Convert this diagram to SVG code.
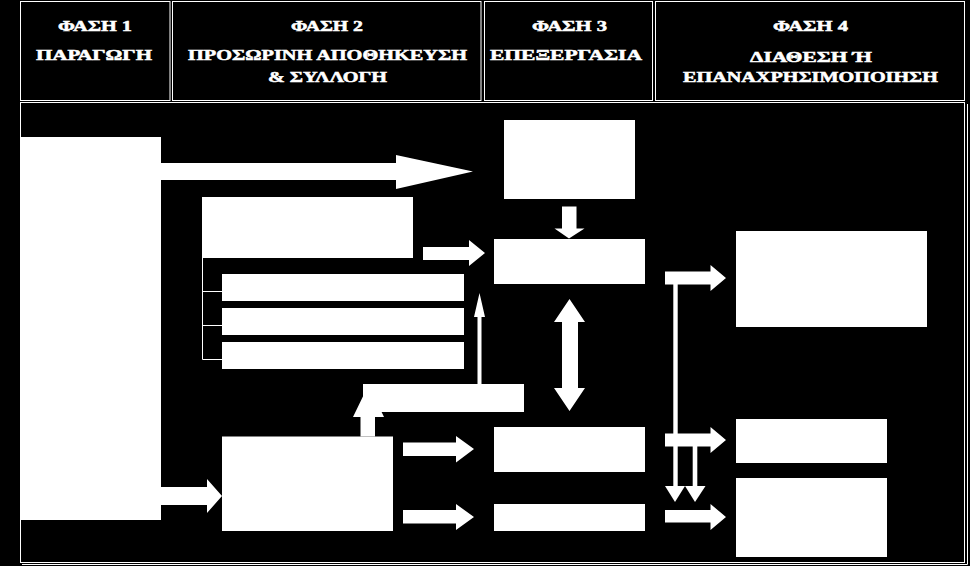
<svg xmlns="http://www.w3.org/2000/svg" width="970" height="566" viewBox="0 0 970 566">
<style>
.frame{fill:none;stroke:#fff;stroke-width:1}
.box{fill:#fff}
.arrow{fill:#fff}
.line{stroke:#fff;stroke-width:1;fill:none}
.hd{font-family:"Liberation Serif","Times New Roman",serif;font-weight:bold;font-size:14px;fill:#fff;stroke:#fff;stroke-width:0.5;text-anchor:middle}
</style>
<rect x="0" y="0" width="970" height="566" fill="#000"/>
<g id="header">
  <rect class="frame" x="20.5" y="1.5" width="149.5" height="99"/>
  <rect class="frame" x="172.5" y="1.5" width="308.5" height="99"/>
  <rect class="frame" x="484.5" y="1.5" width="168" height="99"/>
  <rect class="frame" x="655.5" y="1.5" width="309" height="99"/>
  <text class="hd" x="95" y="31" textLength="74" lengthAdjust="spacingAndGlyphs">ΦΑΣΗ 1</text>
  <text class="hd" x="94" y="60" textLength="116" lengthAdjust="spacingAndGlyphs">ΠΑΡΑΓΩΓΗ</text>
  <text class="hd" x="327" y="31" textLength="72" lengthAdjust="spacingAndGlyphs">ΦΑΣΗ 2</text>
  <text class="hd" x="327.5" y="60" textLength="279" lengthAdjust="spacingAndGlyphs">ΠΡΟΣΩΡΙΝΗ ΑΠΟΘΗΚΕΥΣΗ</text>
  <text class="hd" x="327.5" y="82" textLength="119" lengthAdjust="spacingAndGlyphs">&amp; ΣΥΛΛΟΓΗ</text>
  <text class="hd" x="569.5" y="31" textLength="75" lengthAdjust="spacingAndGlyphs">ΦΑΣΗ 3</text>
  <text class="hd" x="566" y="60" textLength="152" lengthAdjust="spacingAndGlyphs">ΕΠΕΞΕΡΓΑΣΙΑ</text>
  <text class="hd" x="810.5" y="31" textLength="75" lengthAdjust="spacingAndGlyphs">ΦΑΣΗ 4</text>
  <text class="hd" x="811" y="61.5" textLength="122" lengthAdjust="spacingAndGlyphs">ΔΙΑΘΕΣΗ Ή</text>
  <text class="hd" x="810.5" y="82" textLength="255" lengthAdjust="spacingAndGlyphs">ΕΠΑΝΑΧΡΗΣΙΜΟΠΟΙΗΣΗ</text>
</g>
<g id="body-frame">
  <rect class="frame" x="20.5" y="102.5" width="944" height="460"/>
  <path class="line" d="M967.5,104 V564.5 H22"/>
</g>
<g id="connectors">
  <polygon class="arrow" points="161,163 396,163 396,155 473,171.5 396,189 396,180 161,180"/>
  <polygon class="arrow" points="423,247 469,247 469,240 485,253 469,266 469,260 423,260"/>
  <polygon class="arrow" points="477.5,384 477.5,317 474,317 479.5,293 485,317 481.5,317 481.5,384"/>
  <polygon class="arrow" points="360.5,436.5 360.5,417 353,417 368.5,385 384,417 375,417 375,436.5"/>
  <polygon class="arrow" points="161,487 207,487 207,479 222,496 207,513 207,505 161,505"/>
  <polygon class="arrow" points="403,442.5 456,442.5 456,436 474,449 456,462.5 456,456 403,456"/>
  <polygon class="arrow" points="403,510 456,510 456,504 474,517 456,530 456,523.5 403,523.5"/>
  <polygon class="arrow" points="562,206.5 576.5,206.5 576.5,228.5 584.5,228.5 569,238.5 554.5,228.5 562,228.5"/>
  <polygon class="arrow" points="569.5,299 585,322 578,322 578,388 585,388 569.5,411 554,388 562,388 562,322 554,322"/>
  <polygon class="arrow" points="665,271.5 710.5,271.5 710.5,265 726,278 710.5,291 710.5,284.5 665,284.5"/>
  <rect class="arrow" x="673.3" y="284" width="4.4" height="202"/>
  <polygon class="arrow" points="665,433.5 710.5,433.5 710.5,427 726,440 710.5,453 710.5,446.5 665,446.5"/>
  <rect class="arrow" x="692.7" y="446" width="4.6" height="40"/>
  <polygon class="arrow" points="665,486 685,486 675,502"/>
  <polygon class="arrow" points="685,486 705.5,486 695,502"/>
  <polygon class="arrow" points="665,510 710.5,510 710.5,504 726,517 710.5,530 710.5,522.5 665,522.5"/>
  <path class="line" d="M202.5,258 V359.5 M202.5,291.5 H222 M202.5,325.5 H222 M202.5,359.5 H222"/>
</g>
<g id="n-production"><rect class="box" x="20" y="137" width="141" height="383"/></g>
<g id="n-storage-top"><rect class="box" x="202" y="197" width="211" height="61"/></g>
<g id="n-bar1"><rect class="box" x="222" y="274" width="242" height="27"/></g>
<g id="n-bar2"><rect class="box" x="222" y="308" width="242" height="27"/></g>
<g id="n-bar3"><rect class="box" x="222" y="342" width="242" height="27"/></g>
<g id="n-collect-mid"><rect class="box" x="363" y="384" width="161" height="28"/></g>
<g id="n-storage-bottom"><rect class="box" x="222" y="436.5" width="171" height="94.5"/></g>
<g id="n-proc-top"><rect class="box" x="504" y="120" width="131" height="79"/></g>
<g id="n-proc-1"><rect class="box" x="494" y="239" width="151" height="45"/></g>
<g id="n-proc-2"><rect class="box" x="494" y="427" width="151" height="45"/></g>
<g id="n-proc-3"><rect class="box" x="494" y="504" width="151" height="27"/></g>
<g id="n-disp-1"><rect class="box" x="736" y="231" width="191" height="96"/></g>
<g id="n-disp-2"><rect class="box" x="736" y="419" width="151" height="44"/></g>
<g id="n-disp-3"><rect class="box" x="736" y="478" width="151" height="79"/></g>
</svg>
